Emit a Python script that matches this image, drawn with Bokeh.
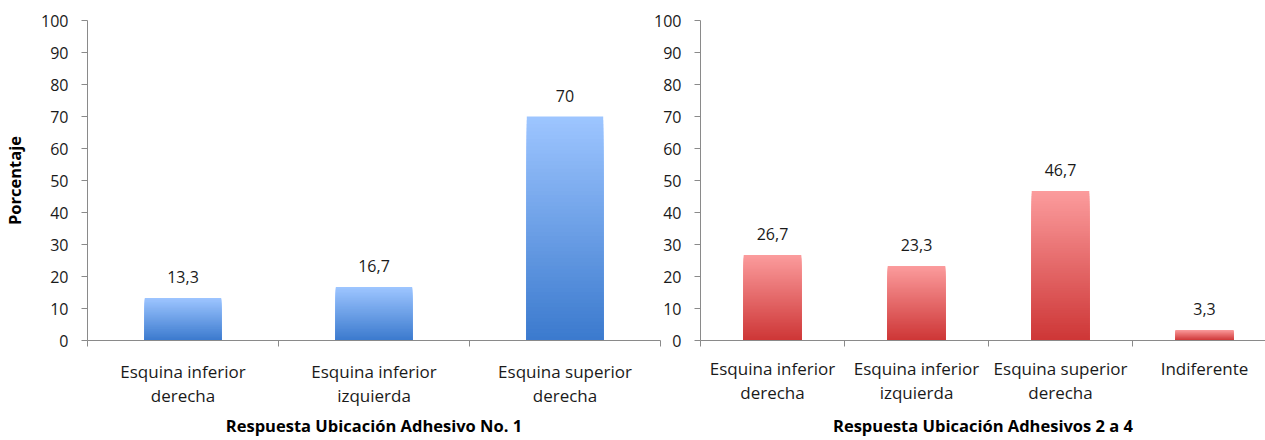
from bokeh.plotting import figure
from bokeh.layouts import row
from bokeh.models import FixedTicker, ColumnDataSource
from bokeh.core.properties import value
from bokeh.embed import file_html
from bokeh.resources import INLINE

# Encuesta: ubicación preferida de los adhesivos (porcentaje de respuestas)
categorias_1 = ["Esquina inferior\nderecha", "Esquina inferior\nizquierda", "Esquina superior\nderecha"]
valores_1 = [13.3, 16.7, 70]
etiquetas_1 = ["13,3", "16,7", "70"]

categorias_2 = ["Esquina inferior\nderecha", "Esquina inferior\nizquierda", "Esquina superior\nderecha", "Indiferente"]
valores_2 = [26.7, 23.3, 46.7, 3.3]
etiquetas_2 = ["26,7", "23,3", "46,7", "3,3"]

titulo_1 = "Respuesta Ubicación Adhesivo No. 1"
titulo_2 = "Respuesta Ubicación Adhesivos 2 a 4"
titulo_y = "Porcentaje"
ticks_y = list(range(0, 101, 10))

FONT = "Open Sans"
AXIS_COLOR = "#8a8a8a"
TEXT_COLOR = "#1a1a1a"


def hex_to_rgb(h):
    h = h.lstrip("#")
    return tuple(int(h[i:i + 2], 16) for i in (0, 2, 4))


def mix(c_top, c_bot, t):
    a, b = hex_to_rgb(c_top), hex_to_rgb(c_bot)
    return "#%02x%02x%02x" % tuple(round(a[i] + (b[i] - a[i]) * t) for i in range(3))


def gradient_bars(p, xs, values, c_top, c_bot, steps=60):
    # vertical gradient: full-height bar in the light colour, then progressively
    # shorter and darker bars painted over it, so the bands never leave seams
    x, top, color = [], [], []
    for k in range(steps, 0, -1):
        frac = k / steps
        c = mix(c_top, c_bot, 1 - frac)
        for xi, v in zip(xs, values):
            x.append(xi)
            top.append(v * frac)
            color.append(c)
    src = ColumnDataSource(dict(x=x, top=top, color=color))
    p.vbar(x="x", bottom=0, top="top", width=0.4, source=src,
           fill_color="color", line_color=None)


def build(categorias, valores, etiquetas, titulo, c_top, c_bot, width, x_end,
          border_left, label_standoff, title_standoff, ylabel=None):
    n = len(categorias)
    xs = list(range(1, n + 1))
    p = figure(width=width, height=440, x_range=(0.5, x_end), y_range=(0, 100),
               output_backend="svg", toolbar_location=None,
               min_border_left=border_left, min_border_right=0,
               min_border_top=20, min_border_bottom=100)
    p.outline_line_color = None
    p.background_fill_color = None
    p.border_fill_color = None
    p.xgrid.visible = False
    p.ygrid.visible = False

    gradient_bars(p, xs, valores, c_top, c_bot)

    src = ColumnDataSource(dict(x=xs, y=valores, t=etiquetas))
    p.text(x="x", y="y", text="t", source=src, y_offset=-15,
           text_align="center", text_baseline="bottom",
           text_font_size="16px", text_color=TEXT_COLOR, text_font=value(FONT))

    # x axis: labels at category centers, tick marks on category boundaries
    xa = p.xaxis[0]
    xa.ticker = FixedTicker(ticks=xs, minor_ticks=[i + 0.5 for i in range(0, n + 1)])
    xa.major_label_overrides = {i: c for i, c in zip(xs, categorias)}
    xa.major_tick_in = 0
    xa.major_tick_out = 0
    xa.minor_tick_in = 0
    xa.minor_tick_out = 6
    xa.axis_line_color = AXIS_COLOR
    xa.minor_tick_line_color = AXIS_COLOR
    xa.major_label_text_font = FONT
    xa.major_label_text_font_size = "17px"
    xa.major_label_text_color = TEXT_COLOR
    xa.major_label_text_line_height = 1.05
    xa.major_label_standoff = label_standoff
    xa.axis_label = titulo
    xa.axis_label_text_font = FONT
    xa.axis_label_text_font_size = "16.5px"
    xa.axis_label_text_font_style = "bold"
    xa.axis_label_text_color = "#000000"
    xa.axis_label_standoff = title_standoff

    ya = p.yaxis[0]
    ya.ticker = FixedTicker(ticks=ticks_y)
    ya.major_tick_in = 0
    ya.major_tick_out = 6
    ya.minor_tick_out = 0
    ya.minor_tick_in = 0
    ya.axis_line_color = AXIS_COLOR
    ya.major_tick_line_color = AXIS_COLOR
    ya.major_label_text_font = FONT
    ya.major_label_text_font_size = "16px"
    ya.major_label_text_color = TEXT_COLOR
    ya.major_label_standoff = 13
    if ylabel:
        ya.axis_label = ylabel
        ya.axis_label_text_font = FONT
        ya.axis_label_text_font_size = "16.5px"
        ya.axis_label_text_font_style = "bold"
        ya.axis_label_text_color = "#000000"
        ya.axis_label_standoff = 12
    return p


p1 = build(categorias_1, valores_1, etiquetas_1, titulo_1, "#9dc5ff", "#3a79cd",
           width=680, x_end=3.5, border_left=86,
           label_standoff=13, title_standoff=4, ylabel=titulo_y)
p1.min_border_right = 20

p2 = build(categorias_2, valores_2, etiquetas_2, titulo_2, "#fb9b9c", "#cd3535",
           width=625, x_end=0.5 + 565 / 144, border_left=60,
           label_standoff=10, title_standoff=7)
p2.margin = (0, 0, 0, -40)

layout = row(p1, p2)
open("out.html", "w").write(file_html(layout, INLINE))
